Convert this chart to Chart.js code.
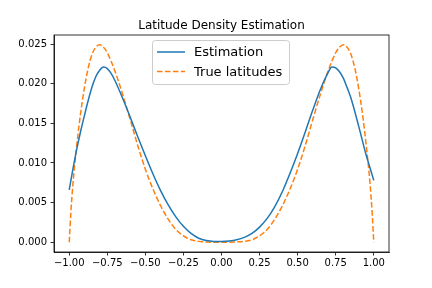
<!DOCTYPE html>
<html lang="en">
<head>
    <meta charset="UTF-8">
    <script src="https://cdn.jsdelivr.net/npm/chart.js@4.4.0/dist/chart.umd.min.js"></script>
    <style>
        html, body {
            margin: 0;
            padding: 0;
            background: #fff;
        }

        #chartBox {
            width: 432px;
            height: 288px;
        }
    </style>
    <title>Latitude Density Estimation</title>
</head>
<body>
    <div id="chartBox">
        <canvas id="chartCanvas" width="432" height="288"></canvas>
    </div>

    <script>
        // values
        const titleText = 'Latitude Density Estimation';
        const seriesNames = ['Estimation', 'True latitudes'];

        const xEst = [-1.0, -0.975, -0.95, -0.925, -0.9, -0.875, -0.85, -0.825, -0.8, -0.775, -0.75, -0.725, -0.7, -0.65, -0.6, -0.55, -0.5,
            -0.45, -0.4, -0.35, -0.3, -0.25, -0.2, -0.15, -0.1, -0.05, 0.0, 0.05, 0.1, 0.15, 0.2, 0.25, 0.3, 0.35, 0.4, 0.45,
            0.5, 0.55, 0.6, 0.65, 0.7, 0.725, 0.75, 0.775, 0.8, 0.825, 0.85, 0.9, 0.95, 0.975, 1.0];
        const yEst = [0.0066, 0.0093, 0.0118, 0.0140, 0.0160, 0.0179, 0.0196, 0.0209, 0.0217, 0.0221, 0.0219, 0.0213, 0.0204, 0.0182, 0.0158, 0.0133, 0.0109,
            0.0086, 0.0065, 0.0047, 0.0032, 0.0020, 0.0011, 0.0005, 0.0002, 0.0001, 0.0001, 0.00015, 0.0003, 0.0006, 0.0011, 0.0019, 0.0030, 0.0045, 0.0064, 0.0087,
            0.0112, 0.0139, 0.0167, 0.0193, 0.0214, 0.0221, 0.0220, 0.0215, 0.0207, 0.0195, 0.0182, 0.0147, 0.0110, 0.0094, 0.0078];

        const xTrue = [-1.0, -0.99, -0.975, -0.95, -0.925, -0.9, -0.875, -0.85, -0.825, -0.8, -0.775, -0.75, -0.7, -0.65, -0.6, -0.55, -0.5,
            -0.45, -0.4, -0.35, -0.3, -0.25, -0.2, -0.15, -0.1, -0.05, 0.0, 0.05, 0.1, 0.15, 0.2, 0.25, 0.3, 0.35, 0.4, 0.45,
            0.5, 0.55, 0.6, 0.65, 0.7, 0.75, 0.775, 0.8, 0.825, 0.85, 0.875, 0.9, 0.925, 0.95, 0.975, 0.99, 1.0];
        const yTrue = [0.0, 0.0035, 0.0075, 0.0123, 0.0163, 0.0195, 0.0220, 0.0237, 0.0246, 0.0249, 0.0246, 0.0239, 0.0216, 0.0187, 0.0155, 0.0122, 0.0092,
            0.0067, 0.0046, 0.0029, 0.0016, 0.0008, 0.0003, 0.0001, 0.00003, 0.0, 0.0, 0.0, 0.00003, 0.0001, 0.0003, 0.0008, 0.0016, 0.0029, 0.0046, 0.0067,
            0.0092, 0.0122, 0.0155, 0.0187, 0.0216, 0.0239, 0.0246, 0.0249, 0.0246, 0.0237, 0.0220, 0.0195, 0.0163, 0.0123, 0.0075, 0.0035, 0.0];

        const xTicks = [-1.0, -0.75, -0.5, -0.25, 0.0, 0.25, 0.5, 0.75, 1.0];
        const yTicks = [0.0, 0.005, 0.010, 0.015, 0.020, 0.025];

        const blue = '#1f77b4';
        const orange = '#ff7f0e';
        const tickFont = { family: 'DejaVu Sans', size: 10 };

        function toPoints(xs, ys) {
            return xs.map((x, i) => ({ x: x, y: ys[i] }));
        }

        function fmt(v, digits) {
            return v.toFixed(digits).replace('-', '\u2212');
        }

        // frame, title and legend drawn the matplotlib way
        const framePlugin = {
            id: 'frame',
            afterDraw(chart) {
                const ctx = chart.ctx;
                const a = chart.chartArea;
                ctx.save();
                ctx.strokeStyle = '#000';
                ctx.lineWidth = 0.8;
                ctx.strokeRect(a.left, a.top, a.right - a.left, a.bottom - a.top);

                ctx.fillStyle = '#000';
                ctx.font = '12px "DejaVu Sans"';
                ctx.textAlign = 'center';
                ctx.textBaseline = 'alphabetic';
                ctx.fillText(titleText, (a.left + a.right) / 2, a.top - 6);

                // legend
                const bx = 152.5, by = 40.5, bw = 137, bh = 44;
                ctx.beginPath();
                ctx.roundRect(bx, by, bw, bh, 3);
                ctx.fillStyle = 'rgba(255,255,255,0.8)';
                ctx.fill();
                ctx.strokeStyle = '#cccccc';
                ctx.lineWidth = 1;
                ctx.stroke();

                const rows = [
                    { y: 52, color: blue, dash: [] },
                    { y: 71.5, color: orange, dash: [5.55, 2.4] }
                ];
                ctx.font = '13px "DejaVu Sans"';
                ctx.textAlign = 'left';
                ctx.textBaseline = 'middle';
                rows.forEach((r, i) => {
                    ctx.beginPath();
                    ctx.setLineDash(r.dash);
                    ctx.strokeStyle = r.color;
                    ctx.lineWidth = 1.5;
                    ctx.moveTo(157, r.y);
                    ctx.lineTo(185, r.y);
                    ctx.stroke();
                    ctx.setLineDash([]);
                    ctx.fillStyle = '#000';
                    ctx.fillText(seriesNames[i], 194, r.y + 1);
                });
                ctx.restore();
            }
        };

        const ctx = document.getElementById('chartCanvas').getContext('2d');
        const chart = new Chart(ctx, {
            type: 'line',
            data: {
                datasets: [
                    {
                        label: seriesNames[0],
                        data: toPoints(xEst, yEst),
                        borderColor: blue,
                        borderWidth: 1.5,
                        pointRadius: 0,
                        fill: false,
                        cubicInterpolationMode: 'monotone'
                    },
                    {
                        label: seriesNames[1],
                        data: toPoints(xTrue, yTrue),
                        borderColor: orange,
                        borderWidth: 1.5,
                        borderDash: [5.55, 2.4],
                        pointRadius: 0,
                        fill: false,
                        cubicInterpolationMode: 'monotone'
                    }
                ]
            },
            options: {
                responsive: false,
                animation: false,
                events: [],
                layout: {
                    padding: { left: 0, top: 35, right: 43, bottom: 0 }
                },
                plugins: {
                    legend: { display: false },
                    title: { display: false },
                    tooltip: { enabled: false }
                },
                scales: {
                    x: {
                        type: 'linear',
                        min: -1.1,
                        max: 1.1,
                        afterBuildTicks: (scale) => {
                            scale.ticks = xTicks.map(v => ({ value: v }));
                        },
                        afterFit: (scale) => {
                            scale.height = 36;
                        },
                        ticks: {
                            autoSkip: false,
                            maxRotation: 0,
                            color: '#000',
                            font: tickFont,
                            padding: 2,
                            callback: (v) => fmt(v, 2)
                        },
                        grid: {
                            drawOnChartArea: false,
                            drawTicks: true,
                            tickLength: 3.5,
                            color: '#000',
                            lineWidth: 0.8
                        },
                        border: { display: true, color: '#000', width: 0.8 }
                    },
                    y: {
                        type: 'linear',
                        min: -0.00124,
                        max: 0.02614,
                        afterBuildTicks: (scale) => {
                            scale.ticks = yTicks.map(v => ({ value: v }));
                        },
                        afterFit: (scale) => {
                            scale.width = 54;
                        },
                        ticks: {
                            autoSkip: false,
                            color: '#000',
                            font: tickFont,
                            padding: 3.5,
                            callback: (v) => fmt(v, 3)
                        },
                        grid: {
                            drawOnChartArea: false,
                            drawTicks: true,
                            tickLength: 3.5,
                            color: '#000',
                            lineWidth: 0.8
                        },
                        border: { display: true, color: '#000', width: 0.8 }
                    }
                }
            },
            plugins: [framePlugin]
        });
    </script>
</body>
</html>
